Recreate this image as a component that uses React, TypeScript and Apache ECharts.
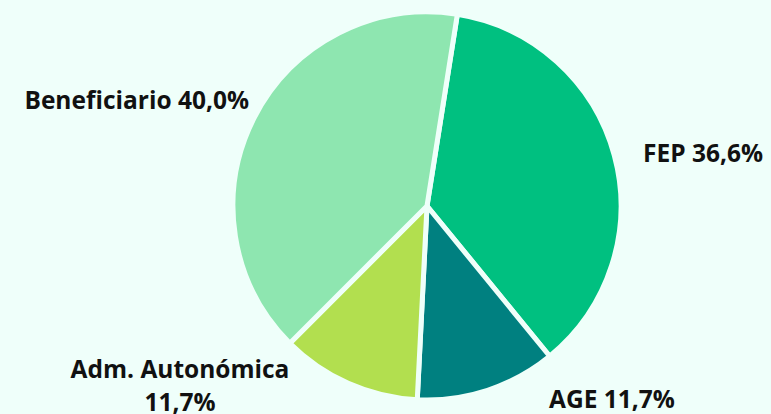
import React, { useEffect, useRef } from "react";
import * as echarts from "echarts";

const categories = ["FEP", "AGE", "Adm. Autonómica", "Beneficiario"];
const values = [36.6, 11.7, 11.7, 40.0];
const labelTexts = ["FEP 36,6%", "AGE 11,7%", "Adm. Autonómica\n11,7%", "Beneficiario 40,0%"];
const colors = ["#00c080", "#008080", "#b2df4f", "#8ee6b0"];

const BG = "#effffa";
// label anchor positions (styling)
const labelPos = [
  { x: 643, y: 152, align: "left" },
  { x: 549, y: 398, align: "left" },
  { x: 180, y: 385, align: "center" },
  { x: 249, y: 99, align: "right" },
];

export default function App() {
  const ref = useRef<HTMLDivElement>(null);
  useEffect(() => {
    if (!ref.current) return;
    const chart = echarts.init(ref.current, null, { renderer: "svg" });
    chart.setOption({
      animation: false,
      backgroundColor: BG,
      series: [
        {
          type: "pie",
          center: [427, 206],
          radius: 194,
          startAngle: 81,
          clockwise: true,
          avoidLabelOverlap: false,
          itemStyle: { borderColor: BG, borderWidth: 5 },
          label: {
            show: true,
            position: "outside",
            color: "#111",
            fontFamily: "Open Sans",
            fontWeight: "bold",
            fontSize: 24.5,
            lineHeight: 33,
            formatter: (p: any) => labelTexts[p.dataIndex],
          },
          labelLine: { show: false },
          labelLayout: (p: any) => {
            const lp = labelPos[p.dataIndex];
            return { x: lp.x, y: lp.y, align: lp.align, verticalAlign: "middle" };
          },
          emphasis: { disabled: true },
          data: categories.map((c, i) => ({
            name: c,
            value: values[i],
            itemStyle: { color: colors[i] },
          })),
        },
      ],
    });
    return () => chart.dispose();
  }, []);
  return (
    <div
      ref={ref}
      style={{ position: "fixed", left: 0, top: 0, width: 771, height: 414 }}
    />
  );
}
